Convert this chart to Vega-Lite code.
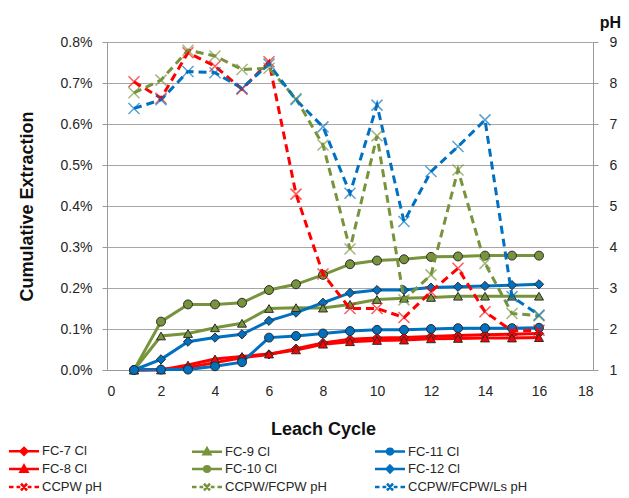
{
  "$schema": "https://vega.github.io/schema/vega-lite/v6.json",
  "width": 486,
  "height": 328,
  "autosize": {"type": "none"},
  "padding": {"left": 107, "top": 42, "right": 36, "bottom": 128},
  "background": "white",
  "config": {
    "font": "Liberation Sans",
    "view": {"stroke": null},
    "axis": {
      "labelFont": "Liberation Sans",
      "labelFontSize": 14,
      "labelColor": "#262626",
      "titleFont": "Liberation Sans",
      "titleFontSize": 18,
      "titleFontWeight": "bold",
      "titleColor": "#111111",
      "domainColor": "#999999",
      "tickColor": "#999999",
      "gridColor": "#a6a6a6"
    },
    "legend": {
      "title": null,
      "orient": "none",
      "legendX": -107,
      "legendY": 400,
      "direction": "horizontal",
      "columns": 3,
      "gridAlign": "all",
      "columnPadding": 21,
      "rowPadding": 0,
      "symbolSize": 225,
      "symbolStrokeWidth": 2.5,
      "symbolOffset": 15,
      "symbolOpacity": 1,
      "labelFont": "Liberation Sans",
      "labelFontSize": 13,
      "labelColor": "#262626",
      "labelOffset": 9,
      "labelLimit": 200
    }
  },
  "datasets": {
    "cl": [
      {"series": "FC-7 Cl", "cycle": 1, "value": 0},
      {"series": "FC-7 Cl", "cycle": 2, "value": 0.00002},
      {"series": "FC-7 Cl", "cycle": 3, "value": 0.00006},
      {"series": "FC-7 Cl", "cycle": 4, "value": 0.00018},
      {"series": "FC-7 Cl", "cycle": 5, "value": 0.0003},
      {"series": "FC-7 Cl", "cycle": 6, "value": 0.00038},
      {"series": "FC-7 Cl", "cycle": 7, "value": 0.00052},
      {"series": "FC-7 Cl", "cycle": 8, "value": 0.00066},
      {"series": "FC-7 Cl", "cycle": 9, "value": 0.00075},
      {"series": "FC-7 Cl", "cycle": 10, "value": 0.00078},
      {"series": "FC-7 Cl", "cycle": 11, "value": 0.00079},
      {"series": "FC-7 Cl", "cycle": 12, "value": 0.00082},
      {"series": "FC-7 Cl", "cycle": 13, "value": 0.00084},
      {"series": "FC-7 Cl", "cycle": 14, "value": 0.00086},
      {"series": "FC-7 Cl", "cycle": 15, "value": 0.00087},
      {"series": "FC-7 Cl", "cycle": 16, "value": 0.00089},
      {"series": "FC-8 Cl", "cycle": 1, "value": 0},
      {"series": "FC-8 Cl", "cycle": 2, "value": 0},
      {"series": "FC-8 Cl", "cycle": 3, "value": 0.00012},
      {"series": "FC-8 Cl", "cycle": 4, "value": 0.00027},
      {"series": "FC-8 Cl", "cycle": 5, "value": 0.00033},
      {"series": "FC-8 Cl", "cycle": 6, "value": 0.00039},
      {"series": "FC-8 Cl", "cycle": 7, "value": 0.00049},
      {"series": "FC-8 Cl", "cycle": 8, "value": 0.00063},
      {"series": "FC-8 Cl", "cycle": 9, "value": 0.00069},
      {"series": "FC-8 Cl", "cycle": 10, "value": 0.00072},
      {"series": "FC-8 Cl", "cycle": 11, "value": 0.00073},
      {"series": "FC-8 Cl", "cycle": 12, "value": 0.00076},
      {"series": "FC-8 Cl", "cycle": 13, "value": 0.00077},
      {"series": "FC-8 Cl", "cycle": 14, "value": 0.00078},
      {"series": "FC-8 Cl", "cycle": 15, "value": 0.00078},
      {"series": "FC-8 Cl", "cycle": 16, "value": 0.00079},
      {"series": "FC-9 Cl", "cycle": 1, "value": 0},
      {"series": "FC-9 Cl", "cycle": 2, "value": 0.00083},
      {"series": "FC-9 Cl", "cycle": 3, "value": 0.00089},
      {"series": "FC-9 Cl", "cycle": 4, "value": 0.00103},
      {"series": "FC-9 Cl", "cycle": 5, "value": 0.00114},
      {"series": "FC-9 Cl", "cycle": 6, "value": 0.0015},
      {"series": "FC-9 Cl", "cycle": 7, "value": 0.00152},
      {"series": "FC-9 Cl", "cycle": 8, "value": 0.00151},
      {"series": "FC-9 Cl", "cycle": 9, "value": 0.0016},
      {"series": "FC-9 Cl", "cycle": 10, "value": 0.00172},
      {"series": "FC-9 Cl", "cycle": 11, "value": 0.00175},
      {"series": "FC-9 Cl", "cycle": 12, "value": 0.00177},
      {"series": "FC-9 Cl", "cycle": 13, "value": 0.0018},
      {"series": "FC-9 Cl", "cycle": 14, "value": 0.0018},
      {"series": "FC-9 Cl", "cycle": 15, "value": 0.0018},
      {"series": "FC-9 Cl", "cycle": 16, "value": 0.0018},
      {"series": "FC-10 Cl", "cycle": 1, "value": 0},
      {"series": "FC-10 Cl", "cycle": 2, "value": 0.00118},
      {"series": "FC-10 Cl", "cycle": 3, "value": 0.0016},
      {"series": "FC-10 Cl", "cycle": 4, "value": 0.0016},
      {"series": "FC-10 Cl", "cycle": 5, "value": 0.00164},
      {"series": "FC-10 Cl", "cycle": 6, "value": 0.00195},
      {"series": "FC-10 Cl", "cycle": 7, "value": 0.00209},
      {"series": "FC-10 Cl", "cycle": 8, "value": 0.00232},
      {"series": "FC-10 Cl", "cycle": 9, "value": 0.00258},
      {"series": "FC-10 Cl", "cycle": 10, "value": 0.00267},
      {"series": "FC-10 Cl", "cycle": 11, "value": 0.0027},
      {"series": "FC-10 Cl", "cycle": 12, "value": 0.00276},
      {"series": "FC-10 Cl", "cycle": 13, "value": 0.00277},
      {"series": "FC-10 Cl", "cycle": 14, "value": 0.00279},
      {"series": "FC-10 Cl", "cycle": 15, "value": 0.00279},
      {"series": "FC-10 Cl", "cycle": 16, "value": 0.00279},
      {"series": "FC-11 Cl", "cycle": 1, "value": 0},
      {"series": "FC-11 Cl", "cycle": 2, "value": 0.00001},
      {"series": "FC-11 Cl", "cycle": 3, "value": 0.00001},
      {"series": "FC-11 Cl", "cycle": 4, "value": 0.00009},
      {"series": "FC-11 Cl", "cycle": 5, "value": 0.00019},
      {"series": "FC-11 Cl", "cycle": 6, "value": 0.00079},
      {"series": "FC-11 Cl", "cycle": 7, "value": 0.00083},
      {"series": "FC-11 Cl", "cycle": 8, "value": 0.00089},
      {"series": "FC-11 Cl", "cycle": 9, "value": 0.00095},
      {"series": "FC-11 Cl", "cycle": 10, "value": 0.00098},
      {"series": "FC-11 Cl", "cycle": 11, "value": 0.00098},
      {"series": "FC-11 Cl", "cycle": 12, "value": 0.001},
      {"series": "FC-11 Cl", "cycle": 13, "value": 0.00102},
      {"series": "FC-11 Cl", "cycle": 14, "value": 0.00102},
      {"series": "FC-11 Cl", "cycle": 15, "value": 0.00102},
      {"series": "FC-11 Cl", "cycle": 16, "value": 0.00103},
      {"series": "FC-12 Cl", "cycle": 1, "value": 0},
      {"series": "FC-12 Cl", "cycle": 2, "value": 0.00026},
      {"series": "FC-12 Cl", "cycle": 3, "value": 0.00069},
      {"series": "FC-12 Cl", "cycle": 4, "value": 0.00079},
      {"series": "FC-12 Cl", "cycle": 5, "value": 0.00087},
      {"series": "FC-12 Cl", "cycle": 6, "value": 0.0012},
      {"series": "FC-12 Cl", "cycle": 7, "value": 0.0014},
      {"series": "FC-12 Cl", "cycle": 8, "value": 0.00164},
      {"series": "FC-12 Cl", "cycle": 9, "value": 0.00188},
      {"series": "FC-12 Cl", "cycle": 10, "value": 0.00195},
      {"series": "FC-12 Cl", "cycle": 11, "value": 0.00195},
      {"series": "FC-12 Cl", "cycle": 12, "value": 0.00201},
      {"series": "FC-12 Cl", "cycle": 13, "value": 0.00203},
      {"series": "FC-12 Cl", "cycle": 14, "value": 0.00205},
      {"series": "FC-12 Cl", "cycle": 15, "value": 0.00207},
      {"series": "FC-12 Cl", "cycle": 16, "value": 0.00209}
    ],
    "ph": [
      {"series": "CCPW pH", "cycle": 1, "value": 8.03},
      {"series": "CCPW pH", "cycle": 2, "value": 7.63},
      {"series": "CCPW pH", "cycle": 3, "value": 8.74},
      {"series": "CCPW pH", "cycle": 4, "value": 8.41},
      {"series": "CCPW pH", "cycle": 5, "value": 7.85},
      {"series": "CCPW pH", "cycle": 6, "value": 8.52},
      {"series": "CCPW pH", "cycle": 7, "value": 5.29},
      {"series": "CCPW pH", "cycle": 8, "value": 3.34},
      {"series": "CCPW pH", "cycle": 9, "value": 2.5},
      {"series": "CCPW pH", "cycle": 10, "value": 2.5},
      {"series": "CCPW pH", "cycle": 11, "value": 2.28},
      {"series": "CCPW pH", "cycle": 12, "value": 2.91},
      {"series": "CCPW pH", "cycle": 13, "value": 3.48},
      {"series": "CCPW pH", "cycle": 14, "value": 2.42},
      {"series": "CCPW pH", "cycle": 15, "value": 1.95},
      {"series": "CCPW pH", "cycle": 16, "value": 1.97},
      {"series": "CCPW/FCPW pH", "cycle": 1, "value": 7.76},
      {"series": "CCPW/FCPW pH", "cycle": 2, "value": 8.07},
      {"series": "CCPW/FCPW pH", "cycle": 3, "value": 8.8},
      {"series": "CCPW/FCPW pH", "cycle": 4, "value": 8.66},
      {"series": "CCPW/FCPW pH", "cycle": 5, "value": 8.33},
      {"series": "CCPW/FCPW pH", "cycle": 6, "value": 8.36},
      {"series": "CCPW/FCPW pH", "cycle": 7, "value": 7.62},
      {"series": "CCPW/FCPW pH", "cycle": 8, "value": 6.49},
      {"series": "CCPW/FCPW pH", "cycle": 9, "value": 3.95},
      {"series": "CCPW/FCPW pH", "cycle": 10, "value": 6.71},
      {"series": "CCPW/FCPW pH", "cycle": 11, "value": 2.71},
      {"series": "CCPW/FCPW pH", "cycle": 12, "value": 3.32},
      {"series": "CCPW/FCPW pH", "cycle": 13, "value": 5.88},
      {"series": "CCPW/FCPW pH", "cycle": 14, "value": 3.6},
      {"series": "CCPW/FCPW pH", "cycle": 15, "value": 2.38},
      {"series": "CCPW/FCPW pH", "cycle": 16, "value": 2.32},
      {"series": "CCPW/FCPW/Ls pH", "cycle": 1, "value": 7.38},
      {"series": "CCPW/FCPW/Ls pH", "cycle": 2, "value": 7.59},
      {"series": "CCPW/FCPW/Ls pH", "cycle": 3, "value": 8.28},
      {"series": "CCPW/FCPW/Ls pH", "cycle": 4, "value": 8.25},
      {"series": "CCPW/FCPW/Ls pH", "cycle": 5, "value": 7.87},
      {"series": "CCPW/FCPW/Ls pH", "cycle": 6, "value": 8.46},
      {"series": "CCPW/FCPW/Ls pH", "cycle": 7, "value": 7.59},
      {"series": "CCPW/FCPW/Ls pH", "cycle": 8, "value": 6.93},
      {"series": "CCPW/FCPW/Ls pH", "cycle": 9, "value": 5.31},
      {"series": "CCPW/FCPW/Ls pH", "cycle": 10, "value": 7.46},
      {"series": "CCPW/FCPW/Ls pH", "cycle": 11, "value": 4.62},
      {"series": "CCPW/FCPW/Ls pH", "cycle": 12, "value": 5.84},
      {"series": "CCPW/FCPW/Ls pH", "cycle": 13, "value": 6.45},
      {"series": "CCPW/FCPW/Ls pH", "cycle": 14, "value": 7.1},
      {"series": "CCPW/FCPW/Ls pH", "cycle": 15, "value": 2.79},
      {"series": "CCPW/FCPW/Ls pH", "cycle": 16, "value": 2.34}
    ]
  },
  "encoding": {
    "x": {
      "field": "cycle",
      "type": "quantitative",
      "scale": {"domain": [0, 18], "nice": false},
      "axis": {
        "title": "Leach Cycle",
        "values": [0, 2, 4, 6, 8, 10, 12, 14, 16, 18],
        "ticks": false,
        "grid": false,
        "labelPadding": 14,
        "titleX": 216,
        "titleY": 59,
        "titleBaseline": "middle"
      }
    }
  },
  "layer": [
    {
      "data": {"name": "cl"},
      "encoding": {
        "y": {
          "field": "value",
          "type": "quantitative",
          "scale": {"domain": [0, 0.008], "nice": false},
          "axis": {
            "title": "Cumulative Extraction",
            "orient": "left",
            "format": ".1%",
            "values": [0, 0.001, 0.002, 0.003, 0.004, 0.005, 0.006, 0.007, 0.008],
            "grid": true,
            "tickSize": 5,
            "labelPadding": 10,
            "titleX": -80,
            "titleY": 164,
            "titleBaseline": "middle",
            "titleAngle": -90
          }
        }
      },
      "layer": [
        {
          "layer": [
            {"mark": {"type": "line", "strokeWidth": 3}, "encoding": {"detail": {"field": "series"}}},
            {
              "transform": [{"filter": {"field": "series", "oneOf": ["FC-7 Cl", "FC-12 Cl"]}}],
              "mark": {"type": "point", "shape": "diamond", "filled": true, "size": 85, "stroke": "#2b2b2b", "strokeWidth": 1, "opacity": 1}
            },
            {
              "transform": [{"filter": {"field": "series", "oneOf": ["FC-8 Cl", "FC-9 Cl"]}}],
              "mark": {"type": "point", "shape": "triangle-up", "filled": true, "size": 80, "stroke": "#2b2b2b", "strokeWidth": 1, "opacity": 1}
            },
            {
              "transform": [{"filter": {"field": "series", "oneOf": ["FC-10 Cl", "FC-11 Cl"]}}],
              "mark": {"type": "point", "shape": "circle", "filled": true, "size": 80, "stroke": "#2b2b2b", "strokeWidth": 1, "opacity": 1}
            }
          ],
          "encoding": {
            "color": {
              "field": "series",
              "type": "nominal",
              "legend": null,
              "scale": {
                "domain": ["FC-7 Cl", "FC-8 Cl", "FC-9 Cl", "FC-10 Cl", "FC-11 Cl", "FC-12 Cl", "CCPW pH", "CCPW/FCPW pH", "CCPW/FCPW/Ls pH"],
                "range": ["#ff0000", "#ff0000", "#77933c", "#77933c", "#0070c0", "#0070c0", "#ff0000", "#77933c", "#0070c0"]
              }
            }
          }
        },
        {
          "mark": {"type": "point", "opacity": 0},
          "encoding": {
            "fill": {
              "field": "series",
              "type": "nominal",
              "scale": {
                "domain": ["FC-7 Cl", "FC-9 Cl", "FC-11 Cl", "FC-8 Cl", "FC-10 Cl", "FC-12 Cl", "CCPW pH", "CCPW/FCPW pH", "CCPW/FCPW/Ls pH"],
                "range": ["#ff0000", "#77933c", "#0070c0", "#ff0000", "#77933c", "#0070c0", "#ff0000", "#77933c", "#0070c0"]
              }
            },
            "stroke": {
              "field": "series",
              "type": "nominal",
              "scale": {
                "domain": ["FC-7 Cl", "FC-9 Cl", "FC-11 Cl", "FC-8 Cl", "FC-10 Cl", "FC-12 Cl", "CCPW pH", "CCPW/FCPW pH", "CCPW/FCPW/Ls pH"],
                "range": ["#ff0000", "#77933c", "#0070c0", "#ff0000", "#77933c", "#0070c0", "#ff0000", "#77933c", "#0070c0"]
              }
            },
            "shape": {
              "field": "series",
              "type": "nominal",
              "scale": {
                "domain": ["FC-7 Cl", "FC-9 Cl", "FC-11 Cl", "FC-8 Cl", "FC-10 Cl", "FC-12 Cl", "CCPW pH", "CCPW/FCPW pH", "CCPW/FCPW/Ls pH"],
                "range": [
                  "M-2,0H2M0,-0.45L0.45,0L0,0.45L-0.45,0Z",
                  "M-2,0H2M0,-0.45L0.45,0.35L-0.45,0.35Z",
                  "M-2,0H2M0.38,0A0.38,0.38,0,1,1,-0.38,0A0.38,0.38,0,1,1,0.38,0Z",
                  "M-2,0H2M0,-0.45L0.45,0.35L-0.45,0.35Z",
                  "M-2,0H2M0.38,0A0.38,0.38,0,1,1,-0.38,0A0.38,0.38,0,1,1,0.38,0Z",
                  "M-2,0H2M0,-0.45L0.45,0L0,0.45L-0.45,0Z",
                  "M-2,0H-1.4M-1,0H-0.5M0.5,0H1M1.4,0H2M-0.4,-0.45L0.4,0.45M-0.4,0.45L0.4,-0.45",
                  "M-2,0H-1.4M-1,0H-0.5M0.5,0H1M1.4,0H2M-0.4,-0.45L0.4,0.45M-0.4,0.45L0.4,-0.45",
                  "M-2,0H-1.4M-1,0H-0.5M0.5,0H1M1.4,0H2M-0.4,-0.45L0.4,0.45M-0.4,0.45L0.4,-0.45"
                ]
              }
            }
          }
        }
      ]
    },
    {
      "data": {"name": "ph"},
      "encoding": {
        "y": {
          "field": "value",
          "type": "quantitative",
          "scale": {"domain": [1, 9], "nice": false},
          "axis": {
            "title": "pH",
            "orient": "right",
            "values": [1, 2, 3, 4, 5, 6, 7, 8, 9],
            "grid": false,
            "tickSize": 5,
            "labelPadding": 11,
            "titleAngle": 0,
            "titleX": 17,
            "titleY": -20,
            "titleAlign": "center",
            "titleBaseline": "middle",
            "titleFontSize": 16
          }
        },
        "color": {
          "field": "series",
          "type": "nominal",
          "legend": null,
          "scale": {
            "domain": ["FC-7 Cl", "FC-8 Cl", "FC-9 Cl", "FC-10 Cl", "FC-11 Cl", "FC-12 Cl", "CCPW pH", "CCPW/FCPW pH", "CCPW/FCPW/Ls pH"],
            "range": ["#ff0000", "#ff0000", "#77933c", "#77933c", "#0070c0", "#0070c0", "#ff0000", "#77933c", "#0070c0"]
          }
        }
      },
      "layer": [
        {"mark": {"type": "line", "strokeWidth": 3, "strokeDash": [8, 5]}, "encoding": {"detail": {"field": "series"}}},
        {"mark": {"type": "point", "shape": "M-1,-1L1,1M-1,1L1,-1", "filled": false, "size": 121, "strokeWidth": 1.5, "opacity": 0.65}}
      ]
    }
  ],
  "resolve": {"scale": {"y": "independent"}}
}
